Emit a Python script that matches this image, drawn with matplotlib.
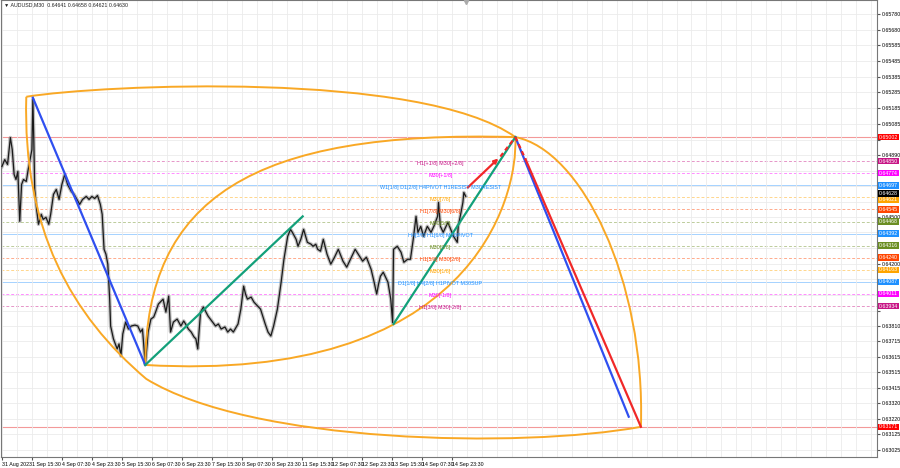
import matplotlib
matplotlib.use("Agg")
import matplotlib.pyplot as plt
from matplotlib.path import Path
from matplotlib.patches import PathPatch
import matplotlib.transforms as mtransforms

# price path (bar index, M30)
bars = [0, 3, 6, 9, 11, 13, 15, 17, 19, 21, 23, 26, 28, 30, 32, 33, 34, 35, 37, 39,
        42, 44, 47, 50, 52, 55, 58, 61, 64, 67, 70, 74, 77, 80, 83, 86, 90, 93, 96, 99,
        102, 105, 107, 109, 111, 113, 115, 116, 119, 123, 125, 127, 129, 132, 135, 138, 142, 145, 148, 150,
        153, 155, 156, 159, 162, 164, 167, 172, 175, 178, 180, 183, 187, 191, 194, 196, 199, 202, 205, 207,
        209, 212, 215, 220, 224, 228, 231, 234, 238, 241, 244, 247, 252, 255, 258, 260, 262, 266, 269, 273,
        276, 281, 284, 287, 290, 294, 298, 301, 305, 308, 310, 314, 316, 319, 322, 326, 330, 332, 335, 337,
        340, 343, 347, 351, 355, 359, 364, 368, 372, 377, 381, 385, 389, 394, 397, 400, 402, 404, 407, 412,
        415, 417, 418, 422, 426, 429, 433, 436, 439, 442, 444, 447, 450, 454, 458, 461, 465, 466, 468, 471,
        476, 479, 482, 486, 487, 490, 492, 493, 495]
prices = [0.64816, 0.64860, 0.64829, 0.64999, 0.64923, 0.64766, 0.64734, 0.64785, 0.64470, 0.64703,
          0.64734, 0.64722, 0.64797, 0.64860, 0.64923, 0.65240, 0.64986, 0.64671, 0.64545, 0.64451,
          0.64514, 0.64482, 0.64495, 0.64451, 0.64514, 0.64640, 0.64671, 0.64608, 0.64703, 0.64766,
          0.64703, 0.64659, 0.64640, 0.64608, 0.64577, 0.64608, 0.64627, 0.64608, 0.64627, 0.64614,
          0.64633, 0.64577, 0.64514, 0.64293, 0.64262, 0.64199, 0.63978, 0.63808, 0.63727, 0.63663,
          0.63695, 0.63619, 0.63758, 0.63833, 0.63789, 0.63808, 0.63814, 0.63808, 0.63770, 0.63789,
          0.63565, 0.63695, 0.63770, 0.63852, 0.63865, 0.63896, 0.63947, 0.63978, 0.63896, 0.63997,
          0.63770, 0.63833, 0.63852, 0.63808, 0.63840, 0.63821, 0.63789, 0.63770, 0.63739, 0.63727,
          0.63663, 0.63896, 0.63928, 0.63871, 0.63840, 0.63808, 0.63821, 0.63789, 0.63802, 0.63770,
          0.63789, 0.63770, 0.63821, 0.63915, 0.64060, 0.64010, 0.63978, 0.63991, 0.63959, 0.63934,
          0.63915, 0.63821, 0.63770, 0.63745, 0.63808, 0.63915, 0.64085, 0.64230, 0.64375, 0.64419,
          0.64400, 0.64356, 0.64312, 0.64356, 0.64419, 0.64337, 0.64325, 0.64312, 0.64325, 0.64293,
          0.64281, 0.64356, 0.64262, 0.64199, 0.64243, 0.64293, 0.64218, 0.64180, 0.64230, 0.64293,
          0.64255, 0.64218, 0.64243, 0.64167, 0.64092, 0.64010, 0.64073, 0.64123, 0.64148, 0.64085,
          0.63978, 0.63830, 0.64293, 0.64312, 0.64274, 0.64211, 0.64230, 0.64230, 0.64356, 0.64501,
          0.64400, 0.64438, 0.64375, 0.64438, 0.64400, 0.64438, 0.64501, 0.64589, 0.64438, 0.64400,
          0.64463, 0.64419, 0.64375, 0.64337, 0.64438, 0.64526, 0.64589, 0.64652, 0.64628]

# murrey levels: price, colour, solid?, label
level_prices = [0.64850, 0.64774, 0.64697, 0.64621, 0.64545, 0.64468, 0.64392,
                0.64316, 0.64240, 0.64163, 0.64087, 0.64011, 0.63934]
level_colors = ["#C71585", "#FF00FF", "#1E90FF", "#FFA500", "#FF4500", "#6B8E23", "#1E90FF",
                "#6B8E23", "#FF4500", "#FFA500", "#1E90FF", "#FF00FF", "#C71585"]
level_solid = [False, False, True, False, False, False, True,
               False, False, False, True, False, False]
level_labels = ["H1[+1/8] M30[+2/8]", "M30[+1/8]", "W1[1/8] D1[2/8] H4PIVOT H1RESIST M30RESIST",
                "M30[7/8]", "H1[7/8] M30[6/8]", "M30[5/8]", "H4[3/8] H1[6/8] M30PIVOT",
                "M30[3/8]", "H1[5/8] M30[2/8]", "M30[1/8]", "D1[1/8] H4[2/8] H1PIVOT M30SUP",
                "M30[-1/8]", "H1[3/8] M30[-2/8]"]
target_top = 0.65002
target_bottom = 0.63171
bid = 0.64628

yticks = [0.65780, 0.65680, 0.65585, 0.65485, 0.65385, 0.65285, 0.65185, 0.65085, 0.64985,
          0.64890, 0.64790, 0.64695, 0.64595, 0.64500, 0.64400, 0.64300, 0.64200, 0.64105,
          0.64005, 0.63905, 0.63810, 0.63715, 0.63615, 0.63515, 0.63415, 0.63320, 0.63220,
          0.63125, 0.63025]
# ticks whose labels sit under a coloured price box
hidden_ticks = [0.64985, 0.64790, 0.64695, 0.64595, 0.64400, 0.64300, 0.64105, 0.64005, 0.63905]
xlabels = ["31 Aug 2023", "1 Sep 15:30", "4 Sep 07:30", "4 Sep 23:30", "5 Sep 15:30",
           "6 Sep 07:30", "6 Sep 23:30", "7 Sep 15:30", "8 Sep 07:30", "8 Sep 23:30",
           "11 Sep 15:30", "12 Sep 07:30", "12 Sep 23:30", "13 Sep 15:30", "14 Sep 07:30",
           "14 Sep 23:30"]

# analysis drawing anchors (bar, price)
blue1 = [(33, 0.65251), (153, 0.63562)]
green1 = [(153, 0.63562), (321, 0.64501)]
green2 = [(418, 0.63821), (548, 0.65002)]
blue2 = [(548, 0.65002), (669, 0.63235)]
red_up = [(495, 0.64671), (532, 0.64879), (548, 0.65002)]
red_down = [(548, 0.65002), (559, 0.64860), (682, 0.63171)]
outer_top = [(26, 0.65257), (106, 0.65333), (447, 0.65427), (548, 0.65002)]
outer_right = [(548, 0.65002), (618, 0.64923), (687, 0.64104), (682, 0.63171)]
outer_bottom = [(682, 0.63171), (554, 0.63033), (266, 0.63065), (154, 0.63474),
                (74, 0.63877), (22, 0.64419), (26, 0.65257)]
inner_up = [(153, 0.63562), (154, 0.64608), (266, 0.65049), (548, 0.65002)]
inner_low = [(153, 0.63562), (500, 0.63443), (551, 0.64608), (548, 0.65002)]

plt.rcParams["font.family"] = ["Liberation Sans", "DejaVu Sans"]
FS = 3.8

fig = plt.figure(figsize=(9, 4.68), dpi=100)
ax = fig.add_axes([1 / 900, 11 / 468, 876 / 900, 457 / 468])
ax.set_xlim(-1, 934)
ax.set_ylim(0.629803, 0.658685)

# grid
ax.set_xticks(range(0, 481, 32))
ax.set_xticklabels(xlabels, ha="left")
ax.set_xticks(range(0, 934, 16), minor=True)
ax.set_yticks(yticks)
ax.set_yticklabels(["" if v in hidden_ticks else f"{v:.5f}" for v in yticks])
ax.yaxis.tick_right()
ax.grid(True, which="both", color="#ebebeb", lw=0.6, zorder=0)
ax.tick_params(axis="x", which="major", length=2, pad=1.5, labelsize=FS, color="#555")
ax.tick_params(axis="x", which="minor", length=0)
ax.tick_params(axis="y", length=2, pad=1.5, labelsize=FS, color="#555")
for s in ax.spines.values():
    s.set_color("#777")
    s.set_linewidth(0.8)

# levels
for p, c, solid, lab in zip(level_prices, level_colors, level_solid, level_labels):
    ax.axhline(p, color=c, lw=0.7, alpha=0.4 if solid else 0.45,
               ls="-" if solid else (0, (3, 2)), zorder=1)
    ax.text(468, p - 0.00012, lab, color=c, fontsize=3.9, ha="center", va="center", zorder=6)
ax.axhline(target_top, color="#F08080", lw=0.8, alpha=0.8, zorder=1)
ax.axhline(target_bottom, color="#F08080", lw=0.8, alpha=0.8, zorder=1)

# price
ax.plot(bars, prices, color="#8a8a8a", lw=2.6, alpha=0.55, zorder=3)
ax.plot(bars, prices, color="#1a1a1a", lw=0.9, zorder=3)

ORANGE = "#F9A825"


def bez(pts, ax):
    codes = [Path.MOVETO] + [Path.CURVE4] * (len(pts) - 1)
    ax.add_patch(PathPatch(Path(pts, codes), fill=False, ec=ORANGE, lw=1.4, zorder=4))


bez(outer_top, ax)
bez(outer_right, ax)
bez(outer_bottom, ax)
bez(inner_up, ax)
bez(inner_low, ax)

ax.plot(*zip(*blue1), color="#2F4FF0", lw=1.6, zorder=5)
ax.plot(*zip(*blue2), color="#2F4FF0", lw=1.6, zorder=5)
ax.plot(*zip(*green1), color="#13A07A", lw=1.6, zorder=5)
ax.plot(*zip(*green2), color="#13A07A", lw=1.6, zorder=5)
RED = "#F02828"
ax.annotate("", xy=red_up[1], xytext=red_up[0],
            arrowprops=dict(arrowstyle="-|>", color=RED, lw=1.6, mutation_scale=6), zorder=5)
ax.plot(*zip(*red_up[1:]), color=RED, lw=1.6, ls=(0, (2, 1.5)), zorder=5)
ax.plot(*zip(*red_down[:2]), color=RED, lw=1.6, ls=(0, (2, 1.5)), zorder=5)
ax.plot(*zip(*red_down[1:]), color=RED, lw=1.6, zorder=5)

# right axis price boxes
tr = mtransforms.blended_transform_factory(ax.transAxes, ax.transData)
boxes = [(target_top, "#FF0000")] + list(zip(level_prices, level_colors)) + [(target_bottom, "#FF0000")]
for p, c in boxes:
    va = "top" if p == 0.64621 else "center"
    ax.text(1.0025, p, f"{p:.5f}", transform=tr, color="white", fontsize=FS, ha="left", va=va,
            bbox=dict(boxstyle="square,pad=0.15", fc=c, ec="none"), zorder=10, clip_on=False)
ax.text(1.0025, bid, f"{bid:.5f}", transform=tr, color="white", fontsize=FS, ha="left", va="bottom",
        bbox=dict(boxstyle="square,pad=0.15", fc="black", ec="none"), zorder=9, clip_on=False)

ax.text(0.003, 0.994, "\u25bc AUDUSD,M30  0.64641 0.64658 0.64621 0.64630", transform=ax.transAxes,
        fontsize=3.8, va="top", ha="left", color="#222", zorder=10)
ax.plot([495], [0.65855], marker="v", color="#aaaaaa", ms=3, zorder=10, clip_on=False)

fig.savefig("out.png", dpi=100)
